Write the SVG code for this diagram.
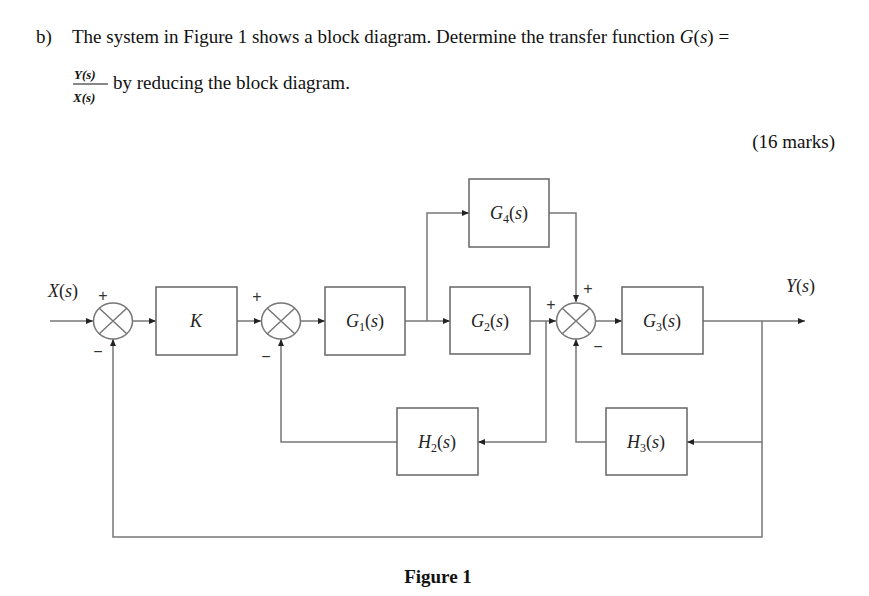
<svg xmlns="http://www.w3.org/2000/svg" width="869" height="596" viewBox="0 0 869 596">
<defs>
<marker id="a" markerWidth="8" markerHeight="6" refX="7" refY="3" orient="auto" markerUnits="userSpaceOnUse"><path d="M0,0 L7,3 L0,6 Z" fill="#222"/></marker>
<style>
.t{font-family:"Liberation Serif",serif;font-size:19px;fill:#111}
.m{font-family:"Liberation Serif",serif;font-style:italic;font-size:18px;fill:#222}
.s{font-family:"Liberation Sans",sans-serif;font-size:16px;fill:#333}
.b rect{fill:#fff;stroke:#666;stroke-width:1.5}
.sum{fill:#fff;stroke:#777;stroke-width:1.5}
.c{fill:none;stroke:#777;stroke-width:1.5}
.c .ar{marker-end:url(#a)}
</style>
</defs>
<rect width="869" height="596" fill="#fff"/>
<text class="t" x="36" y="43">b)</text>
<text class="t" x="72" y="43">The system in Figure 1 shows a block diagram. Determine the transfer function <tspan font-style="italic">G</tspan>(<tspan font-style="italic">s</tspan>) =</text>
<text class="t" x="74" y="79" style="font-size:13px;font-weight:bold;font-style:italic">Y(s)</text>
<line x1="73" y1="84" x2="108" y2="84" stroke="#111" stroke-width="1"/>
<text class="t" x="73" y="102" style="font-size:13px;font-weight:bold;font-style:italic">X(s)</text>
<text class="t" x="113" y="89">by reducing the block diagram.</text>
<text class="t" x="835" y="148" text-anchor="end">(16 marks)</text>

<g class="c" id="connectors">
<path class="ar" d="M50,321 H93"/>
<path class="ar" d="M133,321 H156"/>
<path class="ar" d="M237,321 H261"/>
<path class="ar" d="M301,321 H325"/>
<path class="ar" d="M405,321 H450"/>
<path class="ar" d="M427,321 V213 H469"/>
<path class="ar" d="M549,213 H576 V302"/>
<path class="ar" d="M530,321 H556"/>
<path class="ar" d="M546,321 V442 H478"/>
<path class="ar" d="M397,442 H281 V339"/>
<path class="ar" d="M596,321 H622"/>
<path class="ar" d="M703,321 H805"/>
<path class="ar" d="M762,321 V442 H687"/>
<path class="ar" d="M606,442 H576 V339"/>
<path class="ar" d="M762,442 V537 H113 V339"/>
</g>

<g id="sum1"><ellipse class="sum" cx="113" cy="321" rx="19.5" ry="18"/><path class="c" d="M99,308 L127,334 M127,308 L99,334"/></g>
<g id="sum2"><ellipse class="sum" cx="281" cy="321" rx="19.5" ry="18"/><path class="c" d="M267,308 L295,334 M295,308 L267,334"/></g>
<g id="sum3"><ellipse class="sum" cx="576" cy="321" rx="19.5" ry="18"/><path class="c" d="M562,308 L590,334 M590,308 L562,334"/></g>

<g class="b" id="K"><rect x="156" y="287" width="81" height="68"/><text class="m" x="196" y="327" text-anchor="middle">K</text></g>
<g class="b" id="G1"><rect x="325" y="287" width="80" height="68"/><text class="m" x="365" y="327" text-anchor="middle">G<tspan font-size="12" dy="4" font-style="normal">1</tspan><tspan dy="-4" font-style="normal">(</tspan>s<tspan font-style="normal">)</tspan></text></g>
<g class="b" id="G2"><rect x="450" y="287" width="80" height="67"/><text class="m" x="490" y="327" text-anchor="middle">G<tspan font-size="12" dy="4" font-style="normal">2</tspan><tspan dy="-4" font-style="normal">(</tspan>s<tspan font-style="normal">)</tspan></text></g>
<g class="b" id="G4"><rect x="469" y="179" width="80" height="68"/><text class="m" x="509" y="219" text-anchor="middle">G<tspan font-size="12" dy="4" font-style="normal">4</tspan><tspan dy="-4" font-style="normal">(</tspan>s<tspan font-style="normal">)</tspan></text></g>
<g class="b" id="G3"><rect x="622" y="287" width="81" height="67"/><text class="m" x="662" y="327" text-anchor="middle">G<tspan font-size="12" dy="4" font-style="normal">3</tspan><tspan dy="-4" font-style="normal">(</tspan>s<tspan font-style="normal">)</tspan></text></g>
<g class="b" id="H2"><rect x="397" y="408" width="81" height="67"/><text class="m" x="437" y="448" text-anchor="middle">H<tspan font-size="12" dy="4" font-style="normal">2</tspan><tspan dy="-4" font-style="normal">(</tspan>s<tspan font-style="normal">)</tspan></text></g>
<g class="b" id="H3"><rect x="606" y="408" width="81" height="67"/><text class="m" x="646" y="448" text-anchor="middle">H<tspan font-size="12" dy="4" font-style="normal">3</tspan><tspan dy="-4" font-style="normal">(</tspan>s<tspan font-style="normal">)</tspan></text></g>

<g id="labels">
<text class="m" x="48" y="297">X<tspan font-style="normal">(</tspan>s<tspan font-style="normal">)</tspan></text>
<text class="m" x="786" y="292">Y<tspan font-style="normal">(</tspan>s<tspan font-style="normal">)</tspan></text>
<text class="s" x="103" y="301" text-anchor="middle">+</text>
<text class="s" x="98" y="357" text-anchor="middle">−</text>
<text class="s" x="257" y="302" text-anchor="middle">+</text>
<text class="s" x="266" y="362" text-anchor="middle">−</text>
<text class="s" x="551" y="310" text-anchor="middle">+</text>
<text class="s" x="588" y="294" text-anchor="middle">+</text>
<text class="s" x="598" y="352" text-anchor="middle">−</text>
</g>
<text class="t" x="438" y="583" text-anchor="middle" font-weight="bold">Figure 1</text>
</svg>
